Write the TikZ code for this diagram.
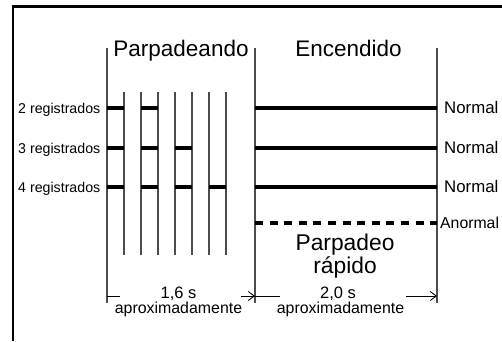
\documentclass[tikz,border=0pt]{standalone}
\usepackage{fontspec}
\setmainfont{Liberation Sans}
\usetikzlibrary{arrows.meta}

\begin{document}
\begin{tikzpicture}[x=1pt, y=-1pt, >={Straight Barb[length=6pt,width=9pt]},
    tick/.style={draw=black!70, line width=1.4pt},
    bar/.style={line width=4.4pt},
    dimline/.style={line width=0.9pt}]
  \useasboundingbox (0,0) rectangle (502,341);
  % Frame, cut off at the right and bottom.
  \draw[line width=2.6pt] (13,341) -- (13,6.5) -- (502,6.5);
  % Long vertical lines.
  \foreach \x in {107,255,437} { \draw[tick] (\x,48) -- (\x,303); }
  % Short vertical lines of the blinking part.
  \foreach \x in {124,141,...,226} { \draw[tick] (\x,92) -- (\x,255); }
  % Headings.
  \node[anchor=base, font=\fontsize{22.5}{23}\selectfont] (blinkhead) at (181,56.5) {Parpadeando};
  \node[anchor=base, font=\fontsize{22.5}{23}\selectfont] (onhead) at (348.5,56) {Encendido};
  % Rows: blinks, then steady bar.
  \foreach \y/\n in {108/2,148/3,187/4} {
    \node[anchor=base east, inner sep=0pt, font=\fontsize{14.2}{15}\selectfont] (reg\n) at (100.5,\y+5) {\n\ registrados};
    \foreach \i in {1,...,\n} { \draw[bar] (107+34*\i-34,\y) -- (124+34*\i-34,\y); }
    \draw[bar] (255,\y) -- (437,\y);
    \node[anchor=base west, inner sep=0pt, font=\fontsize{16.8}{17}\selectfont] (norm\n) at (444,\y+5) {Normal};
  }
  % Abnormal case.
  \draw[bar, dash pattern=on 8pt off 6.6pt] (255,223) -- (437,223);
  \node[anchor=base west, inner sep=0pt, font=\fontsize{15.8}{16}\selectfont] (abnorm) at (440,228) {Anormal};
  \node[anchor=base, font=\fontsize{22.8}{23}\selectfont] (fast1) at (345,250) {Parpadeo};
  \node[anchor=base, font=\fontsize{22.8}{23}\selectfont] (fast2) at (345,273) {rápido};
  % Time spans.
  \coordinate (spanA) at (107,296);
  \coordinate (spanB) at (255,296);
  \coordinate (spanC) at (437,296);
  \coordinate (gapA1) at (120,296);
  \coordinate (gapA2) at (241,296);
  \coordinate (gapB1) at (280,296);
  \coordinate (gapB2) at (405.5,296);
  \draw[dimline] (spanA) -- (gapA1);
  \draw[dimline, ->] (gapA2) -- (spanB);
  \draw[dimline] (spanB) -- (gapB1);
  \draw[dimline, ->] (gapB2) -- (spanC);
  \node[anchor=base, font=\fontsize{16.5}{17}\selectfont] (timeA) at (178.5,298) {1,6 s};
  \node[anchor=base, font=\fontsize{15.9}{16}\selectfont] (aproxA) at (178.5,313) {aproximadamente};
  \node[anchor=base, font=\fontsize{16.5}{17}\selectfont] (timeB) at (338,298) {2,0 s};
  \node[anchor=base, font=\fontsize{15.9}{16}\selectfont] (aproxB) at (340.5,313) {aproximadamente};
\end{tikzpicture}
\end{document}
